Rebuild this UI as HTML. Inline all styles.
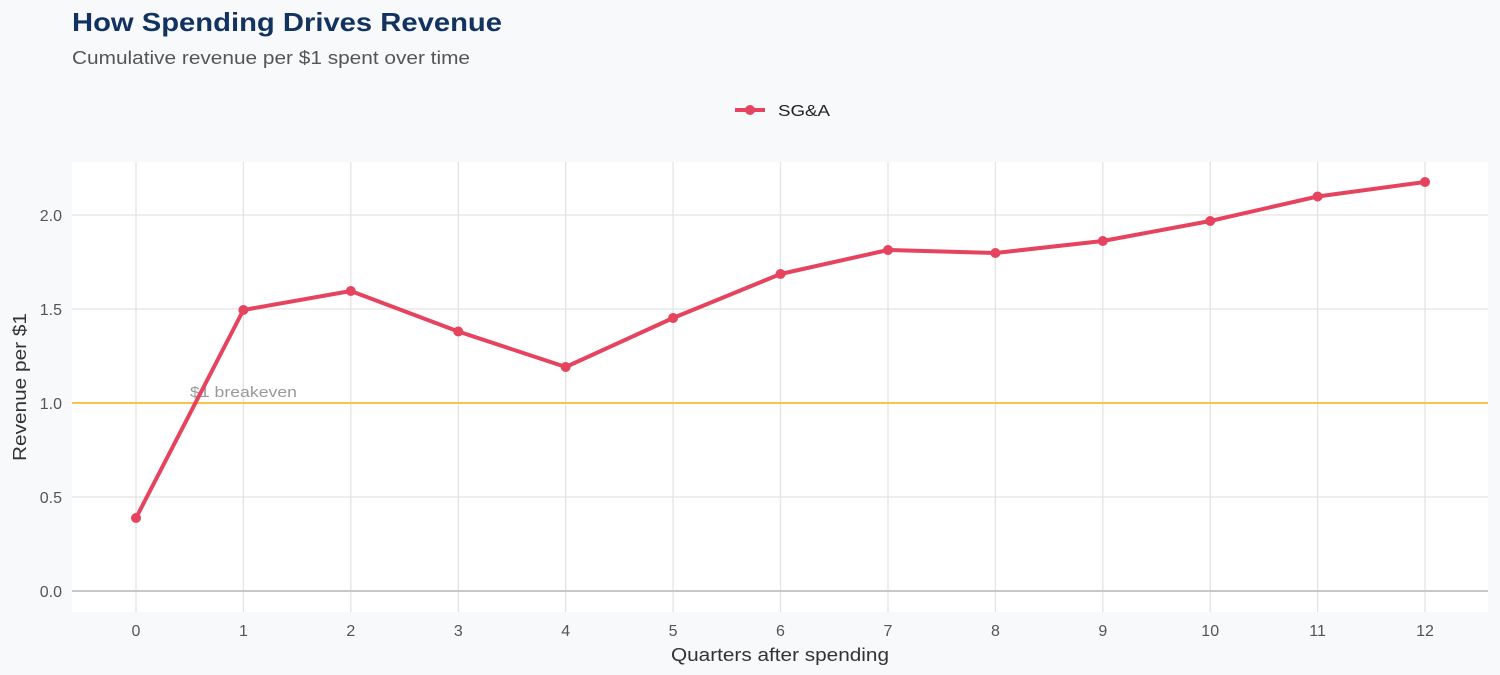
<!DOCTYPE html>
<html><head><meta charset="utf-8"><style>
body{margin:0;background:#f8f9fb;}
svg{display:block;font-family:"Liberation Sans",Arial,sans-serif;}
</style></head><body>
<svg width="1500" height="675" viewBox="0 0 1500 675">
<rect width="1500" height="675" fill="#f8f9fb"/>
<text x="72" y="31" font-size="26" font-weight="bold" fill="#12325f" textLength="430" lengthAdjust="spacingAndGlyphs">How Spending Drives Revenue</text>
<text x="72" y="64" font-size="18" fill="#555" textLength="398" lengthAdjust="spacingAndGlyphs">Cumulative revenue per $1 spent over time</text>
<line x1="735" y1="110" x2="765" y2="110" stroke="#e5435e" stroke-width="4"/>
<circle cx="750" cy="110" r="5" fill="#e5435e"/>
<text x="778" y="116" font-size="16" fill="#222" textLength="52" lengthAdjust="spacingAndGlyphs">SG&amp;A</text>
<rect x="72" y="162" width="1416" height="450" fill="#fff"/>
<g stroke="#e3e3e3" stroke-width="1.3">
<line x1="72" y1="215" x2="1488" y2="215"/><line x1="72" y1="309" x2="1488" y2="309"/><line x1="72" y1="497" x2="1488" y2="497"/>
<line x1="136" y1="162" x2="136" y2="612"/><line x1="243.4" y1="162" x2="243.4" y2="612"/><line x1="350.8" y1="162" x2="350.8" y2="612"/><line x1="458.3" y1="162" x2="458.3" y2="612"/><line x1="565.7" y1="162" x2="565.7" y2="612"/><line x1="673.1" y1="162" x2="673.1" y2="612"/><line x1="780.5" y1="162" x2="780.5" y2="612"/><line x1="888" y1="162" x2="888" y2="612"/><line x1="995.4" y1="162" x2="995.4" y2="612"/><line x1="1102.8" y1="162" x2="1102.8" y2="612"/><line x1="1210.2" y1="162" x2="1210.2" y2="612"/><line x1="1317.6" y1="162" x2="1317.6" y2="612"/><line x1="1425" y1="162" x2="1425" y2="612"/>
</g>
<line x1="72" y1="591" x2="1488" y2="591" stroke="#c8c8c8" stroke-width="2"/>
<line x1="72" y1="403" x2="1488" y2="403" stroke="#f7c34e" stroke-width="2"/>
<text x="190" y="397" font-size="15" fill="#999" textLength="107" lengthAdjust="spacingAndGlyphs">$1 breakeven</text>
<g font-size="16" fill="#555" text-anchor="end">
<text x="62" y="221">2.0</text><text x="62" y="315">1.5</text><text x="62" y="409">1.0</text><text x="62" y="503">0.5</text><text x="62" y="597">0.0</text>
</g>
<g font-size="16" fill="#555" text-anchor="middle">
<text x="136" y="636">0</text><text x="243.4" y="636">1</text><text x="350.8" y="636">2</text><text x="458.3" y="636">3</text><text x="565.7" y="636">4</text><text x="673.1" y="636">5</text><text x="780.5" y="636">6</text><text x="888" y="636">7</text><text x="995.4" y="636">8</text><text x="1102.8" y="636">9</text><text x="1210.2" y="636">10</text><text x="1317.6" y="636">11</text><text x="1425" y="636">12</text>
</g>
<text x="671" y="661" font-size="18" fill="#333" textLength="218" lengthAdjust="spacingAndGlyphs">Quarters after spending</text>
<text transform="translate(26,461) rotate(-90)" font-size="18" fill="#333" textLength="148" lengthAdjust="spacingAndGlyphs">Revenue per $1</text>
<polyline fill="none" stroke="#e5435e" stroke-width="4" stroke-linejoin="round" points="136,518 243.4,310 350.8,291 458.3,331.5 565.7,367 673.1,318 780.5,274 888,250 995.4,253 1102.8,241 1210.2,221 1317.6,196.5 1425,182"/>
<g fill="#e5435e">
<circle cx="136" cy="518" r="5"/><circle cx="243.4" cy="310" r="5"/><circle cx="350.8" cy="291" r="5"/><circle cx="458.3" cy="331.5" r="5"/><circle cx="565.7" cy="367" r="5"/><circle cx="673.1" cy="318" r="5"/><circle cx="780.5" cy="274" r="5"/><circle cx="888" cy="250" r="5"/><circle cx="995.4" cy="253" r="5"/><circle cx="1102.8" cy="241" r="5"/><circle cx="1210.2" cy="221" r="5"/><circle cx="1317.6" cy="196.5" r="5"/><circle cx="1425" cy="182" r="5"/>
</g>
</svg>
</body></html>
